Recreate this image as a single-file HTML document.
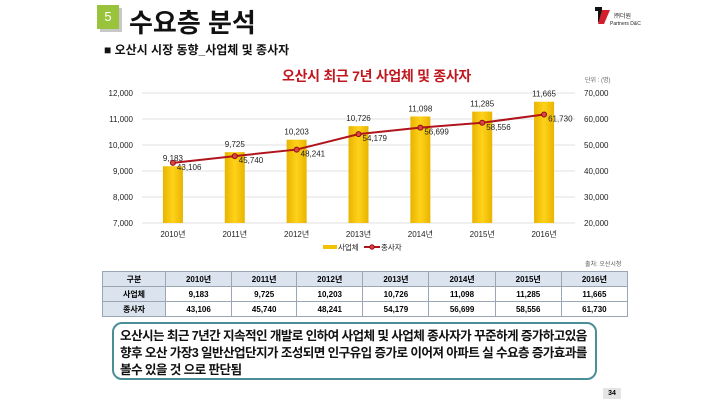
<!DOCTYPE html>
<html><head><meta charset="utf-8">
<style>
body{margin:0;width:720px;height:404px;background:#fff;overflow:hidden;position:relative;font-family:"Liberation Sans","Noto Sans CJK KR",sans-serif;}
.abs{position:absolute;}
table{border-collapse:collapse;}
td{border:1px solid #9aa6b4;text-align:center;font-size:8px;font-weight:bold;height:14px;padding:0;}
</style></head><body>
<div class="abs" style="left:100px;top:8px;width:22px;height:24px;background:#c8c8c8"></div>
<div class="abs" style="left:97px;top:5px;width:22px;height:24px;background:#9ac33c;color:#fff;font-size:13px;text-align:center;line-height:24px">5</div>
<div class="abs" style="left:129px;top:3px;font-size:26px;font-weight:bold;color:#111">수요층 분석</div>
<div class="abs" style="left:592px;top:4px;width:50px;height:22px">
 <svg width="50" height="22"><path d="M3 3 L10 3 L10 18 L6 18 L6 7 L3 7Z" fill="#111"/><path d="M10 6 L18 6 L12 20 L6 20Z" fill="#d21f2b"/><text x="22" y="14" font-size="6" fill="#222">㈜더원</text><text x="18" y="21" font-size="5" fill="#222">Partners D&amp;C</text></svg>
</div>
<div class="abs" style="left:104px;top:41px;font-size:12px;font-weight:bold;color:#111">■ 오산시 시장 동향_사업체 및 종사자</div>
<div class="abs" style="left:282px;top:66px;font-size:14px;font-weight:bold;color:#c0171f;letter-spacing:-0.3px">오산시 최근 7년 사업체 및 종사자</div>
<div class="abs" style="left:585px;top:75px;font-size:6px;color:#666">단위 : (명)</div>
<svg class="abs" style="left:0;top:0" width="720" height="270" id="chart"></svg>
<div class="abs" style="left:585px;top:259px;font-size:6px;color:#555">출처: 오산시청</div>
<table class="abs" style="left:102px;top:271px;width:526px">
<tr style="background:#dbe3ef"><td style="width:62px">구분</td><td>2010년</td><td>2011년</td><td>2012년</td><td>2013년</td><td>2014년</td><td>2015년</td><td>2016년</td></tr>
<tr><td style="background:#dbe3ef">사업체</td><td>9,183</td><td>9,725</td><td>10,203</td><td>10,726</td><td>11,098</td><td>11,285</td><td>11,665</td></tr>
<tr><td style="background:#dbe3ef">종사자</td><td>43,106</td><td>45,740</td><td>48,241</td><td>54,179</td><td>56,699</td><td>58,556</td><td>61,730</td></tr>
</table>
<div class="abs" style="left:112px;top:322px;width:485px;height:58px;border:2px solid #4a8f98;border-radius:10px;padding:0 0 0 6px;font-size:12.6px;font-weight:bold;line-height:17px;color:#111;box-sizing:border-box;padding-top:4px;white-space:nowrap;letter-spacing:-0.6px;overflow:hidden">오산시는 최근 7년간 지속적인 개발로 인하여 사업체 및 사업체 종사자가 꾸준하게 증가하고있음<br>향후 오산 가장3 일반산업단지가 조성되면 인구유입 증가로 이어져 아파트 실 수요층 증가효과를<br>볼수 있을 것 으로 판단됨</div>
<div class="abs" style="left:603px;top:388px;width:18px;height:11px;background:#e4e4e4;font-size:7px;font-weight:bold;text-align:center;line-height:11px">34</div>
<script>
const categories=["2010년","2011년","2012년","2013년","2014년","2015년","2016년"];
const businesses=[9183,9725,10203,10726,11098,11285,11665];
const workers=[43106,45740,48241,54179,56699,58556,61730];
const leftTicks=[7000,8000,9000,10000,11000,12000];
const rightTicks=[20000,30000,40000,50000,60000,70000];
const NS="http://www.w3.org/2000/svg";
const svg=document.getElementById('chart');
const x0=142,x1=575,yTop=93,yBot=223;
const step=(x1-x0)/categories.length;
const xc=i=>x0+step*(i+0.5);
const yL=v=>yBot-(v-7000)/5000*(yBot-yTop);
const yR=v=>yBot-(v-20000)/50000*(yBot-yTop);
const fmt=v=>v.toLocaleString('en-US');
function el(t,a){const e=document.createElementNS(NS,t);for(const k in a)e.setAttribute(k,a[k]);svg.appendChild(e);return e;}
const defs=el('defs',{});
defs.innerHTML='<linearGradient id="bg" x1="0" x2="1"><stop offset="0" stop-color="#e8b400"/><stop offset="0.5" stop-color="#ffd21a"/><stop offset="1" stop-color="#e8b400"/></linearGradient>';
leftTicks.forEach((v,i)=>{
 const g=el('line',{x1:x0,x2:x1,y1:yL(v),y2:yL(v),stroke:'#e2e2e2','stroke-width':1});
 
 
 const t=el('text',{x:133,y:yL(v)+3,'text-anchor':'end','font-size':8,fill:'#222'});t.textContent=fmt(v);
 
 
});
rightTicks.forEach(v=>{
 const t=el('text',{x:584,y:yR(v)+3,'font-size':8,fill:'#222'});t.textContent=fmt(v);
 
 
});
categories.forEach((c,i)=>{
 const b=el('rect',{x:xc(i)-10,y:yL(businesses[i]),width:20,height:yBot-yL(businesses[i]),fill:'url(#bg)'});
 
 
 const t=el('text',{x:xc(i),y:yL(businesses[i])-5,'text-anchor':'middle','font-size':8,fill:'#222'});t.textContent=fmt(businesses[i]);
 
 
 const ct=el('text',{x:xc(i),y:237,'text-anchor':'middle','font-size':8,fill:'#222'});ct.textContent=c;
 
 
});
const pl=el('polyline',{points:workers.map((v,i)=>xc(i)+','+yR(v)).join(' '),fill:'none',stroke:'#b0141c','stroke-width':2});


workers.forEach((v,i)=>{
 const c=el('circle',{cx:xc(i),cy:yR(v),r:2.5,fill:'#d44',stroke:'#8b0f14','stroke-width':1});
 
 
 const t=el('text',{x:xc(i)+4,y:yR(v)+7,'font-size':8,fill:'#222'});t.textContent=fmt(v);
 
 
});
const lg=[['rect',{x:323,y:245,width:14,height:4,fill:'#f2c200'}],['line',{x1:364,x2:380,y1:247,y2:247,stroke:'#b0141c','stroke-width':2}],['circle',{cx:372,cy:247,r:2.2,fill:'#d44',stroke:'#8b0f14'}]];
lg.forEach(([t,a])=>{const e=el(t,a);
 
 });
const l1=el('text',{x:338,y:250,'font-size':7.5,fill:'#222'});l1.textContent='사업체';


const l2=el('text',{x:381,y:250,'font-size':7.5,fill:'#222'});l2.textContent='종사자';


</script>
</body></html>
